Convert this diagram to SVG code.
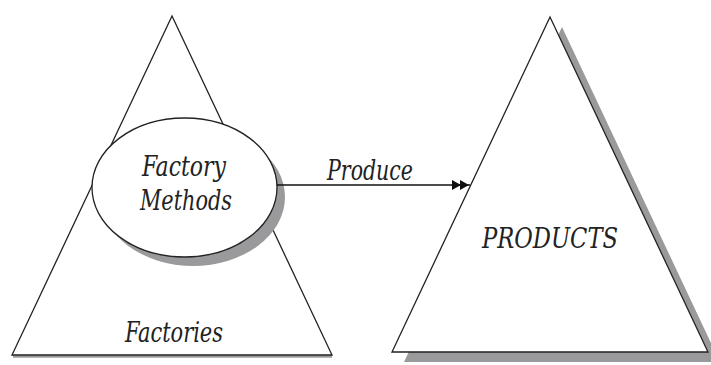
<svg xmlns="http://www.w3.org/2000/svg" width="711" height="365" viewBox="0 0 711 365">
  <style>
    .edge { fill: #fff; stroke: #222; stroke-width: 1.3; stroke-linejoin: miter; }
    .shadow { fill: #9a9a9c; stroke: none; }
    .label { font-family: "DejaVu Serif Condensed", "DejaVu Serif", serif; font-style: italic; font-size: 28px; fill: #222; text-anchor: middle; }
    .wire { stroke: #111; stroke-width: 1.6; fill: none; }
  </style>
  <defs>
    <marker id="dbl" markerWidth="20" markerHeight="12" refX="18" refY="6" orient="auto" markerUnits="userSpaceOnUse">
      <path d="M0,1 L9,6 L0,11 Z M8,1 L17,6 L8,11 Z" fill="#111"/>
    </marker>
  </defs>
  <rect width="711" height="365" fill="#fff"/>

  <g id="factories">
    <line x1="13" y1="356.5" x2="332" y2="356.5" stroke="#9a9a9c" stroke-width="2.5"/>
    <polygon class="edge" points="172,16 12,355 332,355"/>
    <text class="label" x="174" y="342" textLength="98" lengthAdjust="spacingAndGlyphs">Factories</text>
  </g>

  <g id="factory-methods">
    <ellipse class="shadow" cx="193" cy="197" rx="92" ry="69"/>
    <ellipse class="edge" cx="184.5" cy="187.5" rx="92.5" ry="69.5"/>
    <text class="label" x="184" y="176" textLength="84" lengthAdjust="spacingAndGlyphs">Factory</text>
    <text class="label" x="186" y="210" textLength="92" lengthAdjust="spacingAndGlyphs">Methods</text>
  </g>

  <g id="products">
    <polygon class="shadow" points="562,27 720,362 404,362"/>
    <polygon class="edge" points="550,17 708,352 392,352"/>
    <text class="label" x="550" y="248" textLength="136" lengthAdjust="spacingAndGlyphs">PRODUCTS</text>
  </g>

  <g id="connectors">
    <line class="wire" x1="277" y1="185" x2="470" y2="185" marker-end="url(#dbl)"/>
    <text class="label" x="370" y="180" textLength="86" lengthAdjust="spacingAndGlyphs">Produce</text>
  </g>
</svg>
